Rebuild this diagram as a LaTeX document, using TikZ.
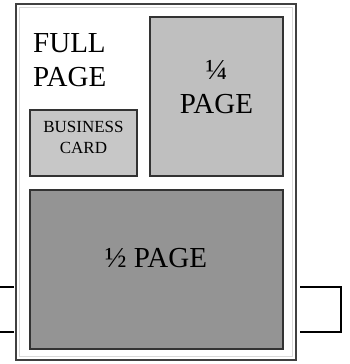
\documentclass[tikz,border=0pt]{standalone}
\usepackage{fontspec}
\setmainfont{Liberation Serif}
\tikzset{
  adbox/.style={draw=black!80,line width=1.5pt},
  bigtext/.style={inner sep=0pt,align=center,font=\fontsize{29}{34}\selectfont},
  smalltext/.style={inner sep=0pt,align=center,font=\fontsize{17}{21}\selectfont}
}
\begin{document}
\begin{tikzpicture}[x=1pt,y=-1pt]
\useasboundingbox (0,0) rectangle (349,364);

% side marks
\draw[line width=1.3pt] (0,287) coordinate (l1) -- (14,287) coordinate (l2);
\draw[line width=1.3pt] (0,332) coordinate (l3) -- (14,332) coordinate (l4);
\draw[line width=1.3pt] (300,287) coordinate (r1) -- (341,287) -- (341,332) -- (300,332) coordinate (r2);

% the full page
\fill[white] (16,4) rectangle (296,360);
\draw[line width=1.5pt,black!75] (16,4) rectangle (296,360);
\draw[line width=1pt,black!15] (19.5,7.5) rectangle (292.5,356.5);

% quarter page
\draw[adbox,fill=black!25] (150,17) rectangle (283,176);
% business card
\draw[adbox,fill=black!22] (30,110) rectangle (137,176);
% half page
\draw[adbox,fill=black!42] (30,190) rectangle (283,349);

% labels
\node[bigtext,align=left,anchor=north west] (full) at (33,33) {FULL\\PAGE};
\node[bigtext,anchor=south] (quarter) at (216.5,114) {¼\\PAGE};
\node[smalltext,anchor=south] (card) at (83.5,154) {BUSINESS\\CARD};
\node[bigtext,anchor=base] (half) at (156,267) {½ PAGE};

\end{tikzpicture}
\end{document}
